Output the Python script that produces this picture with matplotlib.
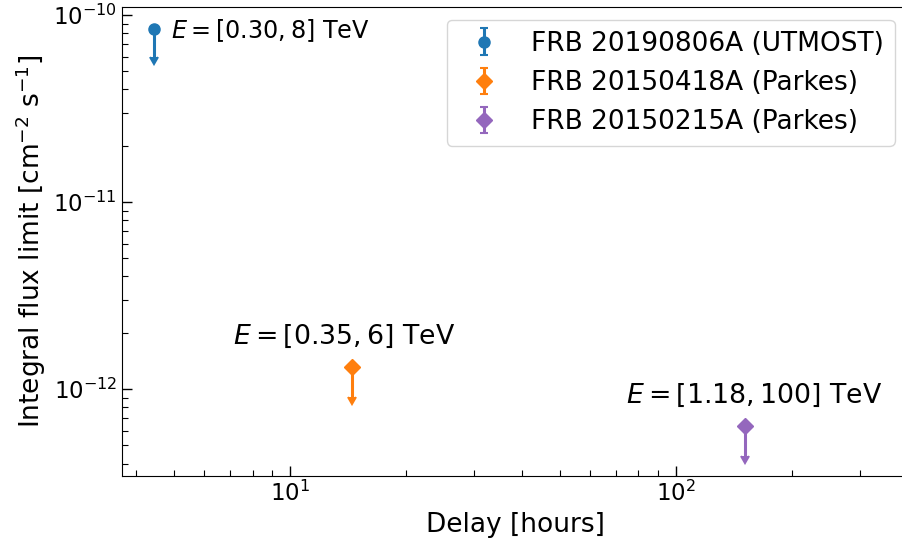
import matplotlib
matplotlib.use('Agg')
import matplotlib.pyplot as plt

# delay [hours], integral flux upper limit [cm^-2 s^-1], arrow length
labels = ['FRB 20190806A (UTMOST)', 'FRB 20150418A (Parkes)', 'FRB 20150215A (Parkes)']
delay = [4.43, 14.45, 151.5]
flux_ul = [8.47e-11, 1.305e-12, 6.34e-13]
arrow_len = [2.51e-11, 3.99e-13, 1.94e-13]
energy_txt = [r'$E = [0.30, 8]$ TeV', r'$E = [0.35, 6]$ TeV', r'$E = [1.18, 100]$ TeV']
colors = ['#1f77b4', '#ff7f0e', '#9467bd']
markers = ['o', 'D', 'D']
msizes = [8, 8.5, 8.5]

fig = plt.figure(figsize=(9.03, 5.47), dpi=100)
# right spine sits just outside the canvas, as in the original crop
ax = fig.add_axes([0.1351, 0.1298, 0.8704, 0.8574])

for i in range(len(labels)):
    ax.errorbar(delay[i], flux_ul[i], yerr=arrow_len[i], uplims=True,
                fmt=markers[i], color=colors[i], ms=msizes[i], elinewidth=2.2,
                capsize=3.2, capthick=1.5, label=labels[i])

# energy range annotations (offsets in pixels)
offsets = [(17, -2), (-7, 31), (9, 31)]
aligns = ['left', 'center', 'center']
txt_sizes = [17.2, 19.3, 19.3]
for i in range(len(labels)):
    ax.annotate(energy_txt[i], (delay[i], flux_ul[i]), xytext=offsets[i],
                textcoords='offset pixels', ha=aligns[i], va='center',
                fontsize=txt_sizes[i])

ax.set_xscale('log')
ax.set_yscale('log')
ax.set_xlim(3.67, 400)
ax.set_ylim(3.43e-13, 1.104e-10)
ax.tick_params(which='both', direction='in', labelsize=16.5)
ax.tick_params(which='major', length=7, width=1)
ax.tick_params(which='minor', length=4, width=0.8)
ax.set_xlabel('Delay [hours]', fontsize=19)
ax.set_ylabel(r'Integral flux limit [cm$^{-2}$ s$^{-1}$]', fontsize=19)
ax.legend(loc='upper right', fontsize=19)

plt.savefig('out.png', dpi=100)
plt.close()
